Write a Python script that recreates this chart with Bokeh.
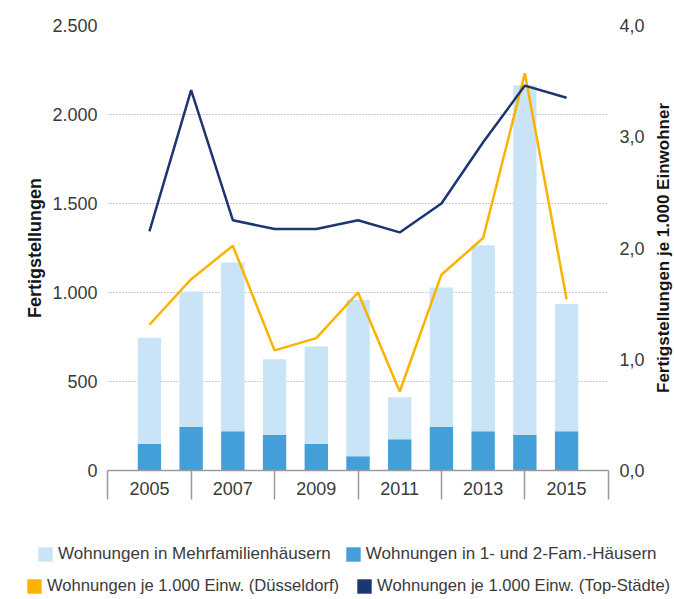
import math
from bokeh.plotting import figure
from bokeh.layouts import column, row
from bokeh.models import (ColumnDataSource, Range1d, LinearAxis, FixedTicker,
                          Legend, LegendItem, Title)
from bokeh.embed import file_html
from bokeh.resources import INLINE

# ---- data ----
years = [2005, 2006, 2007, 2008, 2009, 2010, 2011, 2012, 2013, 2014, 2015]
einfam = [150, 245, 220, 200, 150, 80, 175, 245, 220, 200, 220]          # 1- und 2-Fam.-Häuser
gesamt = [746, 1006, 1169, 625, 696, 959, 412, 1028, 1266, 2163, 935]    # bar total
mehrfam = [g - e for g, e in zip(gesamt, einfam)]                       # Mehrfamilienhäuser
duesseldorf = [1.31, 1.72, 2.02, 1.08, 1.19, 1.60, 0.71, 1.76, 2.09, 3.57, 1.54]
topstaedte = [2.15, 3.42, 2.25, 2.17, 2.17, 2.25, 2.14, 2.40, 2.95, 3.46, 3.35]

left_ticks = [0, 500, 1000, 1500, 2000, 2500]
left_labels = ["0", "500", "1.000", "1.500", "2.000", "2.500"]
right_ticks = [0, 1, 2, 3, 4]
right_labels = ["0,0", "1,0", "2,0", "3,0", "4,0"]
label_years = [2005, 2007, 2009, 2011, 2013, 2015]
divider_years = [2004, 2006, 2008, 2010, 2012, 2014, 2016]

left_title = "Fertigstellungen"
right_title = "Fertigstellungen je 1.000 Einwohner"
legend_names = ["Wohnungen in Mehrfamilienhäusern",
                "Wohnungen in 1- und 2-Fam.-Häusern",
                "Wohnungen je 1.000 Einw. (Düsseldorf)",
                "Wohnungen je 1.000 Einw. (Top-Städte)"]

LIGHT = "#c8e4f6"
DARK = "#449ed8"
YELLOW = "#fbb300"
NAVY = "#1c3671"
TXT = "#3a3a3a"
TITLE = "#151515"
FONT = "Liberation Sans"

MAIN_H = 516

src = ColumnDataSource(dict(year=years, einfam=einfam, mehrfam=mehrfam,
                            dus=duesseldorf, top=topstaedte))

# ================= main chart =================
p = figure(width=650, height=MAIN_H,
           x_range=Range1d(2003.995, 2016.005), y_range=Range1d(0, 2500),
           output_backend="svg", toolbar_location=None,
           min_border_left=107, min_border_right=42,
           min_border_top=25, min_border_bottom=40)
p.extra_y_ranges = {"right": Range1d(0, 4)}
p.outline_line_color = None
p.background_fill_color = "white"

p.vbar_stack(["einfam", "mehrfam"], x="year", width=0.56, source=src,
             color=[DARK, LIGHT], line_color=None)
p.line("year", "dus", source=src, y_range_name="right", line_color=YELLOW,
       line_width=2.5)
p.line("year", "top", source=src, y_range_name="right", line_color=NAVY,
       line_width=2.5)

xa = p.xaxis[0]
xa.ticker = FixedTicker(ticks=label_years, minor_ticks=divider_years)
xa.major_tick_out = 0
xa.major_tick_in = 0
xa.minor_tick_out = 29
xa.minor_tick_in = 0
xa.minor_tick_line_color = "#9a9a9a"
xa.minor_tick_line_width = 1.5
xa.axis_line_color = "#9a9a9a"
xa.axis_line_width = 1.5
xa.major_label_standoff = -18
xa.major_label_text_font = FONT
xa.major_label_text_font_size = "18px"
xa.major_label_text_color = TXT

ya = p.yaxis[0]
ya.ticker = FixedTicker(ticks=left_ticks)
ya.major_label_overrides = {t: s for t, s in zip(left_ticks, left_labels)}
ya.axis_line_color = None
ya.major_tick_line_color = None
ya.minor_tick_line_color = None
ya.major_label_standoff = 4
ya.major_label_text_font = FONT
ya.major_label_text_font_size = "18px"
ya.major_label_text_color = TXT
ya.axis_label = left_title
ya.axis_label_text_font = FONT
ya.axis_label_text_font_style = "bold"
ya.axis_label_text_font_size = "18px"
ya.axis_label_text_color = TITLE
ya.axis_label_standoff = 4

ra = LinearAxis(y_range_name="right", ticker=FixedTicker(ticks=right_ticks))
ra.major_label_overrides = {t: s for t, s in zip(right_ticks, right_labels)}
ra.axis_line_color = None
ra.major_tick_line_color = None
ra.minor_tick_line_color = None
ra.major_label_standoff = 5
ra.major_label_text_font = FONT
ra.major_label_text_font_size = "18px"
ra.major_label_text_color = TXT
p.add_layout(ra, "right")

p.xgrid.visible = False
p.ygrid.ticker = FixedTicker(ticks=left_ticks)
p.ygrid.grid_line_color = "#9a9a9a"
p.ygrid.grid_line_dash = "1 2"
p.ygrid.grid_line_width = 1

# ================= right axis title (reads bottom-to-top) =================
pt = figure(width=24, height=MAIN_H, output_backend="svg",
            toolbar_location=None,
            x_axis_location=None, y_axis_location=None,
            min_border_left=23, min_border_right=0,
            min_border_top=0, min_border_bottom=MAIN_H - 470)
pt.outline_line_color = None
pt.grid.visible = False
pt.add_layout(Title(text=right_title, align="center", vertical_align="middle",
                    standoff=0, offset=0, text_font=FONT,
                    text_font_style="bold", text_font_size="17px",
                    text_color=TITLE), "left")

# ================= legend strip =================
pl = figure(width=674, height=599 - MAIN_H, output_backend="svg",
            toolbar_location=None,
            x_range=Range1d(0, 1), y_range=Range1d(0, 1),
            x_axis_location=None, y_axis_location=None,
            min_border=0)
pl.outline_line_color = None
pl.grid.visible = False
# swatch renderers: same series, drawn outside this strip's visible range
sw = pl.vbar_stack(["einfam", "mehrfam"], x="year", width=0.56, source=src,
                   color=[DARK, LIGHT], line_color=None)
sw_dus = pl.vbar(x="year", top="dus", width=0.56, source=src,
                 fill_color=YELLOW, line_color=None)
sw_top = pl.vbar(x="year", top="top", width=0.56, source=src,
                 fill_color=NAVY, line_color=None)


def make_legend(items, loc, size, spacing):
    return Legend(items=items, location=loc, orientation="horizontal",
                  glyph_width=18, glyph_height=18, label_height=19,
                  label_standoff=4, spacing=spacing, padding=0, margin=0,
                  border_line_color=None, background_fill_alpha=0,
                  label_text_font=FONT, label_text_font_size=size,
                  label_text_color=TXT)


row1 = make_legend([LegendItem(label=legend_names[0], renderers=[sw[1]]),
                    LegendItem(label=legend_names[1], renderers=[sw[0]])],
                   (36, 35), "17px", 13)
row2 = make_legend([LegendItem(label=legend_names[2], renderers=[sw_dus]),
                    LegendItem(label=legend_names[3], renderers=[sw_top])],
                   (25, 3), "16.6px", 16)
pl.add_layout(row1, "center")
pl.add_layout(row2, "center")

layout = column(row(p, pt), pl)
open("out.html", "w").write(file_html(layout, INLINE))
